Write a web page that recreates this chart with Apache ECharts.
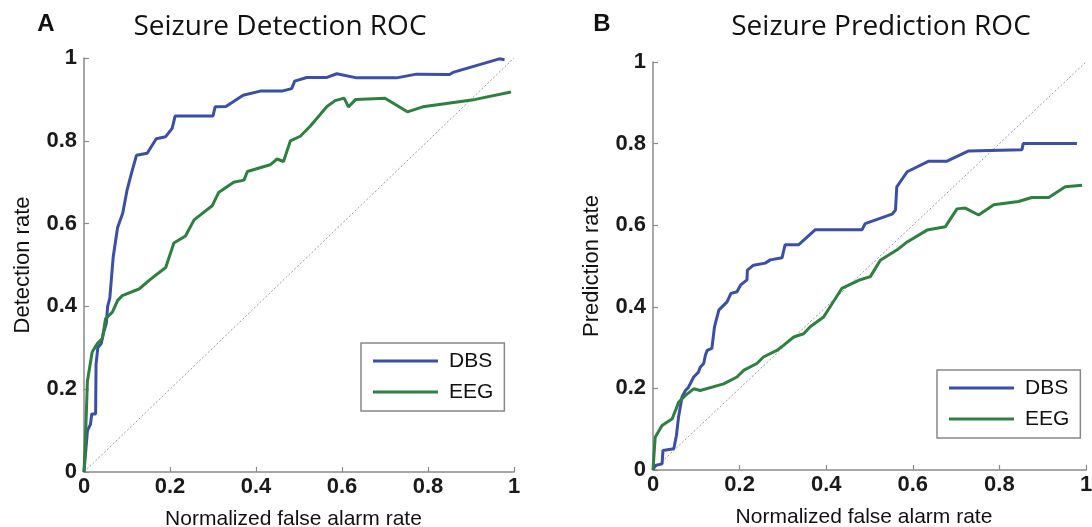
<!DOCTYPE html>
<html>
<head>
<meta charset="utf-8">
<script src="https://cdn.jsdelivr.net/npm/echarts@6/dist/echarts.min.js"></script>
<style>
  html, body { margin: 0; padding: 0; background: #fff; }
  #main { width: 1092px; height: 527px; }
</style>
</head>
<body>
<div id="main"></div>
<script>
// [false alarm rate, rate] pairs
const detectionDBS = [[0,0],[0.008,0.1],[0.015,0.115],[0.018,0.14],[0.027,0.14],[0.028,0.26],[0.032,0.3],[0.04,0.31],[0.045,0.335],[0.052,0.36],[0.055,0.4],[0.06,0.42],[0.068,0.52],[0.078,0.59],[0.09,0.625],[0.1,0.68],[0.11,0.72],[0.122,0.765],[0.147,0.77],[0.168,0.805],[0.19,0.81],[0.205,0.83],[0.212,0.86],[0.3,0.86],[0.305,0.882],[0.33,0.883],[0.37,0.91],[0.41,0.92],[0.46,0.92],[0.483,0.926],[0.49,0.944],[0.518,0.953],[0.565,0.953],[0.588,0.962],[0.634,0.952],[0.727,0.952],[0.773,0.961],[0.85,0.96],[0.86,0.966],[0.966,0.998],[0.978,0.996]];
const detectionEEG = [[0,0],[0.004,0.1],[0.008,0.22],[0.019,0.29],[0.031,0.31],[0.043,0.323],[0.05,0.37],[0.066,0.386],[0.078,0.414],[0.089,0.426],[0.128,0.442],[0.155,0.466],[0.19,0.494],[0.209,0.553],[0.236,0.57],[0.256,0.609],[0.298,0.643],[0.313,0.675],[0.348,0.7],[0.372,0.705],[0.38,0.726],[0.433,0.742],[0.449,0.756],[0.464,0.75],[0.48,0.8],[0.503,0.811],[0.526,0.835],[0.565,0.883],[0.584,0.897],[0.605,0.903],[0.615,0.882],[0.632,0.9],[0.7,0.903],[0.752,0.87],[0.788,0.882],[0.91,0.9],[0.993,0.918]];
const predictionDBS = [[0,0],[0.005,0.011],[0.021,0.015],[0.023,0.048],[0.048,0.052],[0.054,0.084],[0.059,0.13],[0.067,0.179],[0.075,0.195],[0.082,0.203],[0.094,0.228],[0.105,0.24],[0.109,0.252],[0.117,0.261],[0.121,0.281],[0.125,0.293],[0.136,0.298],[0.142,0.351],[0.152,0.392],[0.171,0.412],[0.18,0.433],[0.194,0.437],[0.202,0.453],[0.217,0.466],[0.218,0.49],[0.232,0.502],[0.259,0.507],[0.271,0.515],[0.298,0.52],[0.305,0.552],[0.336,0.552],[0.375,0.589],[0.483,0.589],[0.49,0.604],[0.552,0.627],[0.56,0.637],[0.563,0.694],[0.587,0.731],[0.637,0.757],[0.679,0.757],[0.729,0.782],[0.852,0.785],[0.855,0.8],[0.979,0.8]];
const predictionEEG = [[0,0],[0.005,0.08],[0.021,0.109],[0.032,0.117],[0.044,0.125],[0.052,0.146],[0.059,0.166],[0.075,0.183],[0.094,0.199],[0.109,0.195],[0.163,0.211],[0.194,0.228],[0.209,0.244],[0.24,0.261],[0.255,0.277],[0.286,0.293],[0.302,0.306],[0.325,0.326],[0.348,0.334],[0.363,0.351],[0.394,0.375],[0.436,0.445],[0.475,0.465],[0.502,0.474],[0.525,0.514],[0.563,0.539],[0.587,0.559],[0.633,0.588],[0.675,0.596],[0.702,0.64],[0.721,0.642],[0.752,0.625],[0.787,0.65],[0.844,0.658],[0.875,0.668],[0.914,0.668],[0.952,0.694],[0.991,0.698]];
const chanceLine = [[0,0],[1,1]];

const panelTitles = ['Seizure Detection ROC', 'Seizure Prediction ROC'];
const panelLetters = ['A', 'B'];
const yNames = ['Detection rate', 'Prediction rate'];
const xName = 'Normalized false alarm rate';
const seriesNames = ['DBS', 'EEG'];

const BLUE = '#3b4ea8', GREEN = '#2e8040', AXIS = '#8a8a8a';
const FONT = '"Liberation Sans", Arial, sans-serif';

function xAxisOpt(i){
	return {
		type: 'value', gridIndex: i, min: 0, max: 1, interval: 0.2,
		name: xName, nameLocation: 'middle', nameGap: 37,
		nameTextStyle: { fontFamily: FONT, fontSize: 21, color: '#111', padding: [0, 11, 0, 0] },
		axisLine: { show: true, lineStyle: { color: AXIS, width: 1.5 } },
		axisTick: { show: true, inside: true, length: 5, lineStyle: { color: AXIS, width: 1.2 } },
		axisLabel: { fontFamily: FONT, fontSize: 22, fontWeight: 'bold', color: '#1a1a1a', margin: 4 },
		splitLine: { show: false }
	};
}
function yAxisOpt(i){
	return {
		type: 'value', gridIndex: i, min: 0, max: 1, interval: 0.2,
		name: yNames[i], nameLocation: 'middle', nameGap: 50,
		nameTextStyle: { fontFamily: FONT, fontSize: 22, color: '#111' },
		axisLine: { show: true, lineStyle: { color: AXIS, width: 1.5 } },
		axisTick: { show: true, inside: true, length: 5, lineStyle: { color: AXIS, width: 1.2 } },
		axisLabel: { fontFamily: FONT, fontSize: 22, fontWeight: 'bold', color: '#1a1a1a', margin: 7 },
		splitLine: { show: false }
	};
}
function curve(name, data, i, color){
	return {
		name: name, type: 'line', xAxisIndex: i, yAxisIndex: i, data: data,
		showSymbol: false, symbol: 'none', animation: false,
		lineStyle: { color: color, width: 3 }, itemStyle: { color: color }
	};
}
function chance(i){
	return {
		type: 'line', xAxisIndex: i, yAxisIndex: i, data: chanceLine,
		showSymbol: false, symbol: 'none', silent: true, animation: false,
		lineStyle: { color: '#9a9a9a', width: 1, type: [2, 2] }
	};
}
function legendOpt(left, top){
	return {
		orient: 'vertical', left: left, top: top, data: seriesNames,
		icon: 'rect', itemWidth: 65, itemHeight: 3, itemGap: 9,
		padding: [7, 11, 8, 12],
		borderColor: '#888', borderWidth: 1.5, backgroundColor: '#fff',
		textStyle: { fontFamily: FONT, fontSize: 21, color: '#111', lineHeight: 22, padding: [0, 0, 0, 6] }
	};
}

const chart = echarts.init(document.getElementById('main'));
chart.setOption({
	backgroundColor: '#fff',
	animation: false,
	grid: [
		{ left: 84, right: 578, top: 58, bottom: 55, outerBoundsMode: 'none', containLabel: false },
		{ left: 653, right: 6, top: 62, bottom: 57, outerBoundsMode: 'none', containLabel: false }
	],
	xAxis: [xAxisOpt(0), xAxisOpt(1)],
	yAxis: [yAxisOpt(0), yAxisOpt(1)],
	legend: [legendOpt(361, 343), legendOpt(937, 370)],
	series: [
		chance(0),
		curve('DBS', detectionDBS, 0, BLUE),
		curve('EEG', detectionEEG, 0, GREEN),
		chance(1),
		curve('DBS', predictionDBS, 1, BLUE),
		curve('EEG', predictionEEG, 1, GREEN)
	],
	graphic: [
		{ type: 'text', x: 280, y: 27, style: { text: panelTitles[0], font: '28px "Open Sans", sans-serif', fill: '#111', textAlign: 'center', textVerticalAlign: 'middle' } },
		{ type: 'text', x: 881, y: 27, style: { text: panelTitles[1], font: '28px "Open Sans", sans-serif', fill: '#111', textAlign: 'center', textVerticalAlign: 'middle' } },
		{ type: 'text', x: 46, y: 24, style: { text: panelLetters[0], font: 'bold 24px ' + FONT, fill: '#111', textAlign: 'center', textVerticalAlign: 'middle' } },
		{ type: 'text', x: 602, y: 24, style: { text: panelLetters[1], font: 'bold 24px ' + FONT, fill: '#111', textAlign: 'center', textVerticalAlign: 'middle' } }
	]
});
</script>
</body>
</html>
